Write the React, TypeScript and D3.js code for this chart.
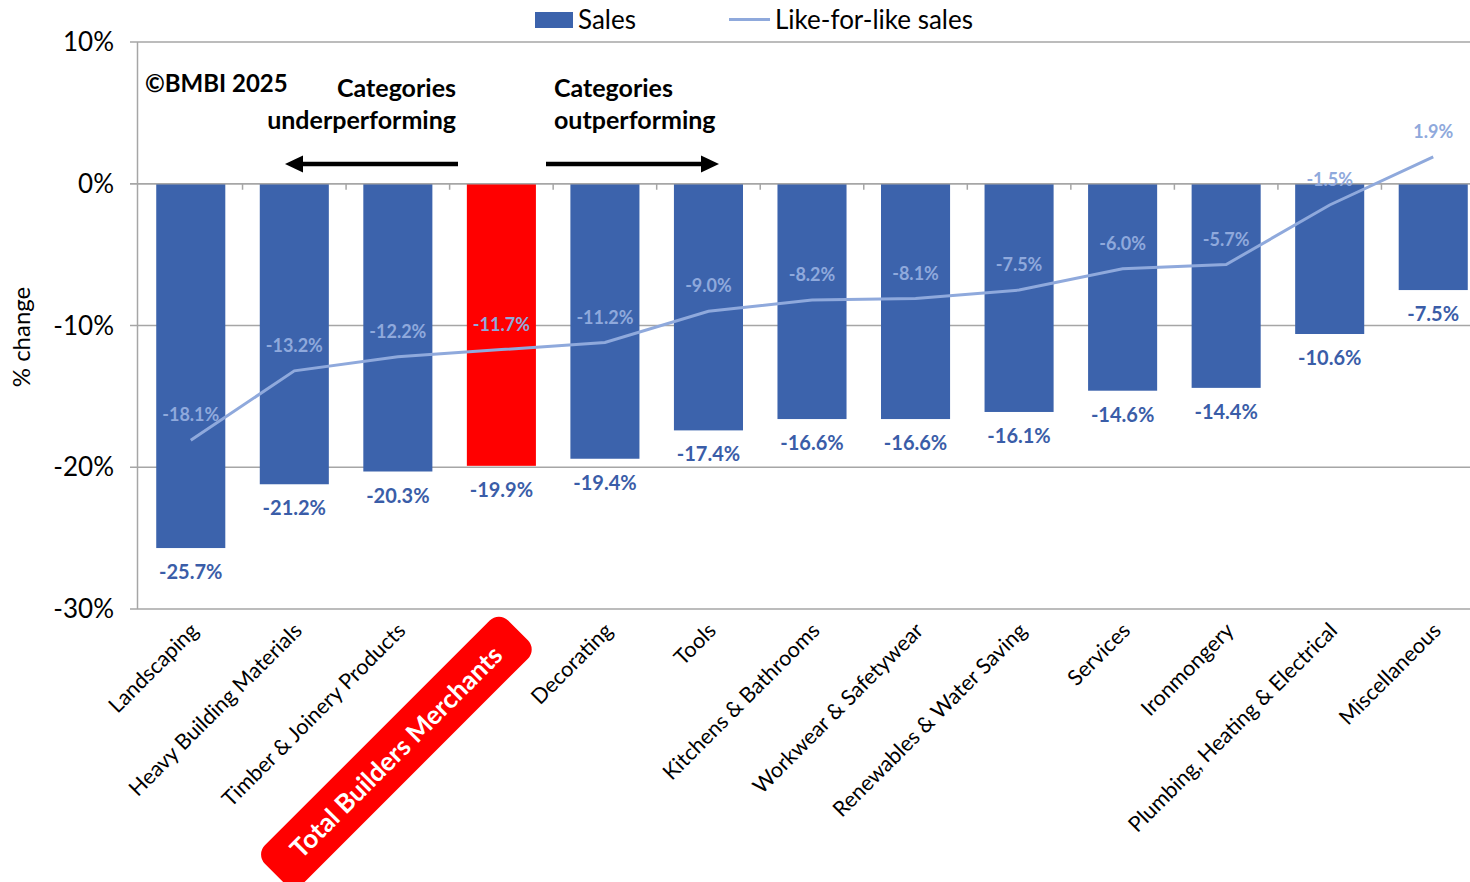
import React from "react";
import * as d3 from "d3";

const categories = [
  "Landscaping",
  "Heavy Building Materials",
  "Timber & Joinery Products",
  "Total Builders Merchants",
  "Decorating",
  "Tools",
  "Kitchens & Bathrooms",
  "Workwear & Safetywear",
  "Renewables & Water Saving",
  "Services",
  "Ironmongery",
  "Plumbing, Heating & Electrical",
  "Miscellaneous",
];
const salesValues = [-25.7, -21.2, -20.3, -19.9, -19.4, -17.4, -16.6, -16.6, -16.1, -14.6, -14.4, -10.6, -7.5];
const lflValues = [-18.1, -13.2, -12.2, -11.7, -11.2, -9.0, -8.2, -8.1, -7.5, -6.0, -5.7, -1.5, 1.9];
const yTicks = [10, 0, -10, -20, -30];
const highlightCategory = "Total Builders Merchants";

const FONT = "Lato, 'Open Sans', sans-serif";
const BAR = "#3C63AC";
const LINE = "#8FA9DC";
const LABEL_DARK = "#3A5DA8";
const GRID = "#A6A6A6";

export default function App() {
  const x = d3.scaleBand<string>().domain(categories).range([139, 1485]).padding(0);
  const y = d3.scaleLinear().domain([-30, 10]).range([609, 42]);
  const step = x.bandwidth();
  const barW = step * 0.667;
  const cx = (c: string) => (x(c) as number) + step / 2;
  const line = d3
    .line<number>()
    .x((_, i) => cx(categories[i]))
    .y((d) => y(d));
  const fmt = (v: number) => `${v.toFixed(1)}%`;
  const hc = cx(highlightCategory);

  return (
    <svg width={1470} height={882} style={{ position: "absolute", left: 0, top: 0 }} fontFamily={FONT}>
      <rect width={1470} height={882} fill="#fff" />
      {/* legend */}
      <rect x={535} y={12} width={38} height={16} fill={BAR} />
      <text x={578} y={29} fontSize={26} fill="#000">Sales</text>
      <line x1={729} x2={770} y1={19.5} y2={19.5} stroke={LINE} strokeWidth={3} />
      <text x={775} y={29} fontSize={26} fill="#000">Like-for-like sales</text>

      {/* gridlines & y axis */}
      {yTicks.map((t) => (
        <g key={t}>
          <line x1={130} x2={1470} y1={y(t)} y2={y(t)} stroke={GRID} strokeWidth={1.5} />
          <text x={114} y={y(t) + 9} fontSize={26} textAnchor="end" fill="#000">{`${t}%`}</text>
        </g>
      ))}
      <line x1={137.5} x2={137.5} y1={y(10)} y2={y(-30)} stroke={GRID} strokeWidth={1.5} />
      {categories.slice(1).map((c) => (
        <line key={c} x1={x(c)} x2={x(c)} y1={y(0)} y2={y(0) + 6} stroke={GRID} strokeWidth={1.5} />
      ))}
      <text transform={`translate(30,337) rotate(-90)`} fontSize={24} textAnchor="middle" fill="#000">% change</text>

      {/* bars */}
      {categories.map((c, i) => (
        <rect
          key={c}
          x={cx(c) - barW / 2}
          y={y(0)}
          width={barW}
          height={y(salesValues[i]) - y(0)}
          fill={c === highlightCategory ? "#FF0000" : BAR}
        />
      ))}
      <line x1={130} x2={1470} y1={y(0)} y2={y(0)} stroke={GRID} strokeWidth={1.5} />

      {/* sales labels */}
      {categories.map((c, i) => (
        <text key={c} x={cx(c)} y={y(salesValues[i]) + 31} fontSize={20} fontWeight="bold" textAnchor="middle" fill={LABEL_DARK}>
          {fmt(salesValues[i])}
        </text>
      ))}

      {/* lfl line */}
      <path d={line(lflValues) as string} fill="none" stroke={LINE} strokeWidth={3} />
      {categories.map((c, i) => (
        <text key={c} x={cx(c)} y={y(lflValues[i]) - 19} fontSize={18} fontWeight="bold" textAnchor="middle" fill={LINE}>
          {fmt(lflValues[i])}
        </text>
      ))}

      {/* annotations */}
      <text x={145} y={92} fontSize={24} fontWeight="bold" fill="#000">©BMBI 2025</text>
      <text x={456} y={97} fontSize={25} fontWeight="bold" textAnchor="end" fill="#000">Categories</text>
      <text x={456} y={129} fontSize={25} fontWeight="bold" textAnchor="end" fill="#000">underperforming</text>
      <text x={554} y={97} fontSize={25} fontWeight="bold" fill="#000">Categories</text>
      <text x={554} y={129} fontSize={25} fontWeight="bold" fill="#000">outperforming</text>
      <line x1={458} x2={300} y1={164} y2={164} stroke="#000" strokeWidth={4.5} />
      <path d="M285,164 L303,155.5 L303,172.5 Z" fill="#000" />
      <line x1={546} x2={703} y1={164} y2={164} stroke="#000" strokeWidth={4.5} />
      <path d="M719,164 L701,155.5 L701,172.5 Z" fill="#000" />

      {/* category labels */}
      {categories.map((c) =>
        c === highlightCategory ? (
          <g key={c} transform={`translate(${hc - 105},${752}) rotate(-45)`}>
            <rect x={-172} y={-27} width={344} height={54} rx={13} fill="#FF0000" />
            <text x={0} y={9} fontSize={26} fontWeight="bold" textAnchor="middle" fill="#fff">{c}</text>
          </g>
        ) : (
          <text
            key={c}
            transform={`translate(${cx(c) + 9},${632}) rotate(-45)`}
            fontSize={21.5}
            textAnchor="end"
            fill="#000"
          >
            {c}
          </text>
        )
      )}
    </svg>
  );
}
